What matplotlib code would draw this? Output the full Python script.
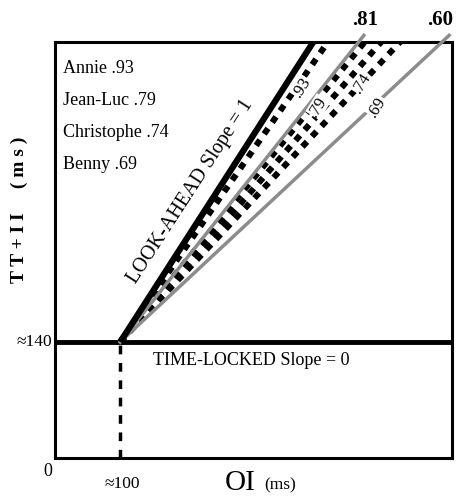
"""
Look-ahead vs time-locked schematic: TT+II as a function of OI,
with per-subject slopes fanning out from (~100, ~140).
"""

import numpy as np
import matplotlib.pyplot as plt

SERIF = ['Liberation Serif', 'DejaVu Serif']

ORIGIN_X, ORIGIN_Y = 100, 140
X_MIN, X_MAX = -22.5, 722
Y_MIN, Y_MAX = 0, 502

SUBJECTS       = ['Annie', 'Jean-Luc', 'Christophe', 'Benny']
SUBJECT_SLOPES = [0.93, 0.79, 0.74, 0.69]
GRAY_SLOPES    = [0.81, 0.60]
GRAY_LABELS    = ['.81', '.60']


def y_at(slope, x):
    return ORIGIN_Y + slope * (x - ORIGIN_X)


def x_at(slope, y):
    return ORIGIN_X + (y - ORIGIN_Y) / slope


fig = plt.figure(figsize=(4.65, 4.97), dpi=100, facecolor='white')
ax = fig.add_axes([0.118, 0.0785, 0.854, 0.837])
ax.set_xlim(X_MIN, X_MAX)
ax.set_ylim(Y_MIN, Y_MAX)
for s in ax.spines.values():
    s.set_linewidth(2.2)
ax.set_xticks([])
ax.set_yticks([])

# time-locked horizontal line and the dashed drop to the x axis
ax.axhline(ORIGIN_Y, color='black', lw=3.5)
ax.plot([ORIGIN_X, ORIGIN_X], [0, ORIGIN_Y], color='black', lw=2.5,
        linestyle=(0, (2.5, 2.5)))

# gray reference lines
for sl in GRAY_SLOPES:
    x_end = min(x_at(sl, Y_MAX + 8), X_MAX)
    ax.plot([ORIGIN_X, x_end], [ORIGIN_Y, y_at(sl, x_end)],
            color='#8c8c8c', lw=2.5, clip_on=False, zorder=3)

# subject lines (square dots)
for sl in SUBJECT_SLOPES:
    x_end = min(x_at(sl, Y_MAX), X_MAX)
    ax.plot([ORIGIN_X, x_end], [ORIGIN_Y, y_at(sl, x_end)],
            color='black', lw=4.4, linestyle=(0, (1.1, 1.2)),
            dash_capstyle='butt', zorder=2)

# look-ahead slope = 1
ax.plot([ORIGIN_X, x_at(1.0, Y_MAX)], [ORIGIN_Y, Y_MAX],
        color='black', lw=4.5, solid_capstyle='butt', zorder=4)

# slope labels on the lines
line_labels = [('.93', 441, 447), ('.79', 471, 424), ('.74', 553, 452),
               ('.69', 581, 424)]
for txt, x, y in line_labels:
    ax.text(x, y, txt, rotation=58, ha='center', va='center',
            fontsize=12, family=SERIF, zorder=5,
            bbox=dict(facecolor='white', edgecolor='none', pad=0.3))

ax.text(232, 322, 'LOOK-AHEAD Slope = 1', rotation=57,
        ha='center', va='center', fontsize=14.5, family=SERIF)
ax.text(161, 118, 'TIME-LOCKED Slope = 0', ha='left', va='center',
        fontsize=13, family=SERIF)

# subject legend
leg_y = [470, 432, 393, 354]
for name, sl, y in zip(SUBJECTS, SUBJECT_SLOPES, leg_y):
    ax.text(-8, y, f'{name} {str(sl)[1:]}', ha='left', va='center',
            fontsize=13, family=SERIF)

# top labels for the gray lines
for sl, lab, x in zip(GRAY_SLOPES, GRAY_LABELS, [559, 700]):
    ax.text(x, 516, lab, ha='center', va='bottom', fontsize=15,
            fontweight='bold', family=SERIF)

# axis annotations
ax.text(X_MIN - 5, ORIGIN_Y, '\u2248140', ha='right', va='center',
        fontsize=12.5, family=SERIF)
ax.text(ORIGIN_X + 4, -22, '\u2248100', ha='center', va='top',
        fontsize=12.5, family=SERIF)
ax.text(X_MIN - 4, -6, '0', ha='right', va='top', fontsize=13,
        family=SERIF)
ax.text(325, -14, 'OI', ha='center', va='top', fontsize=21, family=SERIF)
ax.text(400, -24, '(ms)', ha='center', va='top', fontsize=12.5,
        family=SERIF)
ax.text(X_MIN - 66, 300, "T T + I I     ( m s )", rotation=90, ha='center',
        va='center', fontsize=14, fontweight='bold', family=SERIF)

plt.savefig('out.png', dpi=100, facecolor='white')
